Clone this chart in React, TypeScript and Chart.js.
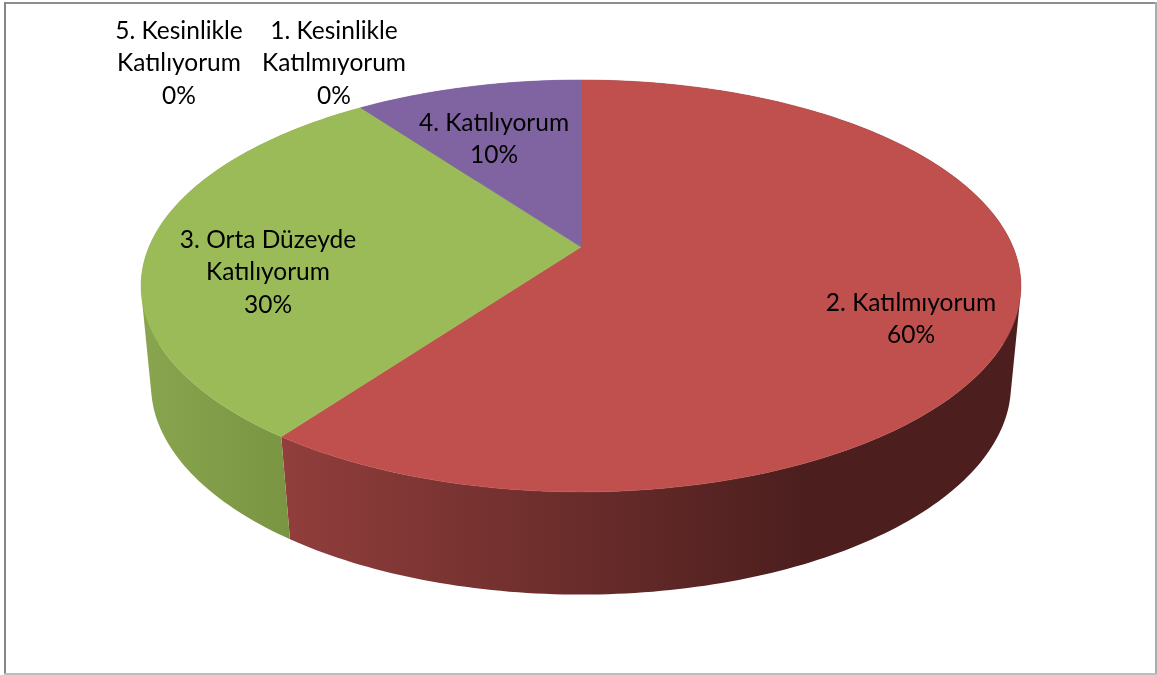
import React, { useEffect, useRef } from "react";
import { Chart, registerables } from "chart.js";

Chart.register(...registerables);

const categories = [
  "1. Kesinlikle Katılmıyorum",
  "2. Katılmıyorum",
  "3. Orta Düzeyde Katılıyorum",
  "4. Katılıyorum",
  "5. Kesinlikle Katılıyorum",
];
const values = [0, 60, 30, 10, 0];
const percentLabels = ["0%", "60%", "30%", "10%", "0%"];
const labelLines = [
  ["1. Kesinlikle", "Katılmıyorum"],
  ["2. Katılmıyorum"],
  ["3. Orta Düzeyde", "Katılıyorum"],
  ["4. Katılıyorum"],
  ["5. Kesinlikle", "Katılıyorum"],
];
const colors = ["#4F81BD", "#BF504D", "#9BBB59", "#8064A2", "#4BACC6"];

// Layout only: where each label block sits (centre x, first line centre y)
const labelAnchors = [
  [334, 31],
  [911, 303],
  [268, 240],
  [494, 123],
  [179, 31],
];
const LINE_STEP = 32.5;
const FONT = '24.5px Lato, "Open Sans", sans-serif';

// Perspective projection of the pie's discs, relative to the arc centre
const topDisc = { a: 432, b: 198.6, k: -0.189, dy: 0 };
const bottomDisc = { a: 423, b: 203, k: -0.18, dy: 100 };
const wallStops: Record<number, [number, number, string, string]> = {
  1: [283, 800, "#913E3C", "#4C1F1E"],
  2: [141, 290, "#89A54F", "#7A9542"],
  3: [361, 581, "#6A5388", "#6A5388"],
};

type Disc = typeof topDisc;
const project = (cx: number, cy: number, d: Disc, ang: number) => {
  const u = Math.cos(ang);
  const v = Math.sin(ang);
  const w = 1 + d.k * v;
  return [cx + (d.a * u) / w, cy + d.dy + (d.b * v) / w];
};

const STEPS = 180;
const rim = (arc: any, d: Disc) => {
  const pts: number[][] = [];
  const n = Math.max(2, Math.ceil((STEPS * (arc.endAngle - arc.startAngle)) / Math.PI));
  for (let i = 0; i <= n; i++) {
    pts.push(project(arc.x, arc.y, d, arc.startAngle + ((arc.endAngle - arc.startAngle) * i) / n));
  }
  return pts;
};

const pie3d = {
  id: "pie3d",
  beforeDatasetDraw(chart: any) {
    const ctx = chart.ctx as CanvasRenderingContext2D;
    const arcs = chart.getDatasetMeta(0).data;
    ctx.save();
    arcs.forEach((arc: any, i: number) => {
      const stops = wallStops[i];
      if (!stops || arc.endAngle - arc.startAngle <= 0) return;
      const g = ctx.createLinearGradient(stops[0], 0, stops[1], 0);
      g.addColorStop(0, stops[2]);
      g.addColorStop(1, stops[3]);
      ctx.fillStyle = g;
      const t = rim(arc, topDisc);
      const b = rim(arc, bottomDisc);
      ctx.beginPath();
      for (let j = 0; j + 1 < t.length; j++) {
        let quad = [t[j], t[j + 1], b[j + 1], b[j]];
        let area = 0;
        quad.forEach((p, q) => {
          const n = quad[(q + 1) % 4];
          area += p[0] * n[1] - n[0] * p[1];
        });
        if (area < 0) quad = quad.reverse();
        quad.forEach((p, q) => (q ? ctx.lineTo(p[0], p[1]) : ctx.moveTo(p[0], p[1])));
        ctx.closePath();
      }
      ctx.fill("nonzero");
    });
    arcs.forEach((arc: any, i: number) => {
      if (arc.endAngle - arc.startAngle <= 0) return;
      ctx.fillStyle = colors[i];
      ctx.strokeStyle = colors[i];
      ctx.lineWidth = 0.5;
      ctx.beginPath();
      ctx.moveTo(arc.x, arc.y);
      rim(arc, topDisc).forEach((p) => ctx.lineTo(p[0], p[1]));
      ctx.closePath();
      ctx.fill();
      ctx.stroke();
    });
    ctx.restore();
    return false;
  },
  afterDatasetsDraw(chart: any) {
    const ctx = chart.ctx as CanvasRenderingContext2D;
    ctx.save();
    ctx.font = FONT;
    ctx.fillStyle = "#000000";
    ctx.textAlign = "center";
    ctx.textBaseline = "middle";
    categories.forEach((_, i) => {
      const lines = [...labelLines[i], percentLabels[i]];
      lines.forEach((line, j) => {
        ctx.fillText(line, labelAnchors[i][0], labelAnchors[i][1] + j * LINE_STEP);
      });
    });
    ctx.restore();
  },
};

export default function App() {
  const ref = useRef<HTMLCanvasElement>(null);
  useEffect(() => {
    if (!ref.current) return;
    const chart = new Chart(ref.current, {
      type: "pie",
      data: {
        labels: categories,
        datasets: [{ data: values, backgroundColor: colors, borderWidth: 0 }],
      },
      options: {
        animation: false,
        responsive: false,
        maintainAspectRatio: false,
        layout: { padding: { left: 5, right: 0, top: 0, bottom: 181 } },
        plugins: { legend: { display: false }, tooltip: { enabled: false } },
      },
      plugins: [pie3d],
    } as any);
    return () => chart.destroy();
  }, []);
  const edge = (s: React.CSSProperties) => <div style={{ position: "absolute", ...s }} />;
  return (
    <div style={{ position: "fixed", left: 0, top: 0, width: 1157, height: 675, background: "#fff", overflow: "hidden" }}>
      <canvas ref={ref} width={1157} height={675} style={{ position: "absolute", left: 0, top: 0, display: "block" }} />
      {edge({ left: 4, top: 2, width: 1153, height: 2, background: "#8f8f8f" })}
      {edge({ left: 4, top: 2, width: 2, height: 673, background: "#858585" })}
      {edge({ left: 1155, top: 2, width: 2, height: 673, background: "#ababab" })}
      {edge({ left: 4, top: 673, width: 1153, height: 2, background: "#bdbdbd" })}
    </div>
  );
}
